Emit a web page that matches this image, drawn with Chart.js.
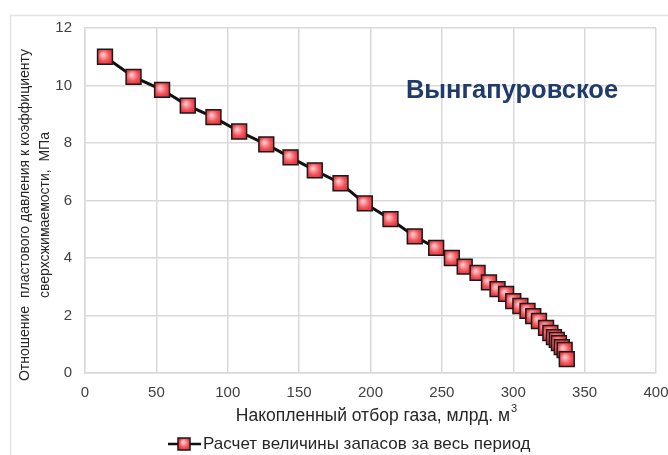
<!DOCTYPE html>
<html>
<head>
<meta charset="utf-8">
<script src="https://cdn.jsdelivr.net/npm/chart.js@4.4.1/dist/chart.umd.min.js"></script>
<style>
  html, body { margin: 0; padding: 0; background: #fff; }
  #wrap { width: 668px; height: 455px; position: relative; }
</style>
</head>
<body>
<div id="wrap"><canvas id="gasChart" width="668" height="455"></canvas></div>
<script>
// cumulative gas production, bln m3
const cumProduction = [14, 34, 54, 72, 90, 108, 127, 144, 161, 179, 196, 214, 231, 246,
  257, 266, 275, 283, 289, 295, 300, 305, 310, 314, 318, 323, 326, 328.5, 330.5, 332, 334, 336, 337.5];
// p/z, MPa
const pressureRatio = [11.0, 10.3, 9.85, 9.3, 8.9, 8.4, 7.95, 7.5, 7.05, 6.6, 5.9, 5.35, 4.75, 4.35,
  4.0, 3.7, 3.48, 3.15, 2.92, 2.75, 2.5, 2.33, 2.16, 1.98, 1.81, 1.57, 1.39, 1.25, 1.15, 1.04, 0.9, 0.8, 0.48];
const xTicks = [0, 50, 100, 150, 200, 250, 300, 350, 400];
const yTicks = [0, 2, 4, 6, 8, 10, 12];

const seriesLabel = 'Расчет величины запасов за весь период';
const fieldName = 'Вынгапуровское';
const xTitle = 'Накопленный отбор газа, млрд. м';
const yTitle = ['Отношение  пластового давления к коэффициенту', 'сверхсжимаемости,  МПа'];

const sans = "'Liberation Sans', Arial, sans-serif";
const gridColor = '#d9d9d9';

function redGradient(ctx, px, py, r) {
  const g = ctx.createRadialGradient(px - 2, py - 2, 1, px, py, r);
  g.addColorStop(0, '#fcc0c3');
  g.addColorStop(0.5, '#f2545b');
  g.addColorStop(1, '#e01f28');
  return g;
}

function markerFill(context) {
  const chart = context.chart;
  if (!chart.chartArea || !context.raw) {
    return '#e5353d';
  }
  const px = chart.scales.x.getPixelForValue(context.raw.x);
  const py = chart.scales.y.getPixelForValue(context.raw.y);
  return redGradient(chart.ctx, px, py, 10);
}

const points = cumProduction.map(function (v, i) {
  return { x: v, y: pressureRatio[i] };
});

const extras = {
  id: 'extras',
  beforeDraw(chart) {
    const ctx = chart.ctx;
    ctx.save();
    ctx.strokeStyle = '#e2e2e2';
    ctx.lineWidth = 1.5;
    ctx.strokeRect(10.5, 15.5, 700, 500);
    ctx.restore();
  },
  afterDraw(chart) {
    const ctx = chart.ctx;
    ctx.save();
    // field name
    ctx.font = 'bold 25.5px ' + sans;
    ctx.fillStyle = '#1f3b6b';
    ctx.textAlign = 'center';
    ctx.textBaseline = 'middle';
    ctx.fillText(fieldName, 512, 91);

    // x axis title with superscript
    ctx.fillStyle = '#262626';
    ctx.font = '17.5px ' + sans;
    const w = ctx.measureText(xTitle).width;
    ctx.font = '11px ' + sans;
    const ws = ctx.measureText('3').width;
    const startX = 376 - (w + ws) / 2;
    ctx.textAlign = 'left';
    ctx.font = '17.5px ' + sans;
    ctx.fillText(xTitle, startX, 416);
    ctx.font = '11px ' + sans;
    ctx.fillText('3', startX + w + 1, 409);

    // y axis title
    ctx.font = '14px ' + sans;
    ctx.textAlign = 'center';
    ctx.translate(25, 215);
    ctx.rotate(-Math.PI / 2);
    ctx.fillText(yTitle[0], 0, 0);
    ctx.fillText(yTitle[1], 0, 20);
    ctx.restore();

    // legend
    ctx.save();
    const lx = 168, ly = 444;
    ctx.strokeStyle = '#111';
    ctx.lineWidth = 2.5;
    ctx.beginPath();
    ctx.moveTo(lx, ly);
    ctx.lineTo(lx + 33, ly);
    ctx.stroke();
    ctx.fillStyle = redGradient(ctx, lx + 17, ly, 8);
    ctx.fillRect(lx + 10, ly - 6, 12, 12);
    ctx.lineWidth = 1.5;
    ctx.strokeStyle = '#1a1a1a';
    ctx.strokeRect(lx + 10, ly - 6, 12, 12);
    ctx.font = '17px ' + sans;
    ctx.fillStyle = '#262626';
    ctx.textAlign = 'left';
    ctx.textBaseline = 'middle';
    ctx.fillText(seriesLabel, lx + 35, ly);
    ctx.restore();
  }
};

new Chart(document.getElementById('gasChart'), {
  type: 'scatter',
  data: {
    datasets: [{
      label: seriesLabel,
      data: points,
      showLine: true,
      borderColor: '#111',
      borderWidth: 3,
      pointStyle: 'rect',
      pointRadius: 10.5,
      pointHoverRadius: 10.5,
      pointBorderColor: '#1a1a1a',
      pointBorderWidth: 1.5,
      pointBackgroundColor: markerFill
    }]
  },
  options: {
    responsive: false,
    animation: false,
    events: [],
    layout: { padding: { top: 28, right: 12, left: 0, bottom: 0 } },
    plugins: {
      legend: { display: false },
      tooltip: { enabled: false }
    },
    scales: {
      x: {
        type: 'linear',
        min: 0,
        max: 400,
        afterFit: function (scale) {
          scale.height = 82;
          scale.paddingLeft = 0;
          scale.paddingRight = 0;
        },
        afterBuildTicks: function (scale) {
          scale.ticks = xTicks.map(function (v) { return { value: v }; });
        },
        grid: { color: gridColor, lineWidth: 1.5, drawTicks: false },
        border: { color: gridColor, width: 1.5 },
        ticks: {
          padding: 11,
          color: '#404040',
          font: { family: sans, size: 15 },
          maxRotation: 0
        }
      },
      y: {
        type: 'linear',
        min: 0,
        max: 12,
        afterFit: function (scale) {
          scale.width = 85;
          scale.paddingTop = 0;
          scale.paddingBottom = 0;
        },
        afterBuildTicks: function (scale) {
          scale.ticks = yTicks.map(function (v) { return { value: v }; });
        },
        grid: { color: gridColor, lineWidth: 1.5, drawTicks: false },
        border: { color: gridColor, width: 1.5 },
        ticks: {
          padding: 13,
          color: '#404040',
          font: { family: sans, size: 15 }
        }
      }
    }
  },
  plugins: [extras]
});
</script>
</body>
</html>
